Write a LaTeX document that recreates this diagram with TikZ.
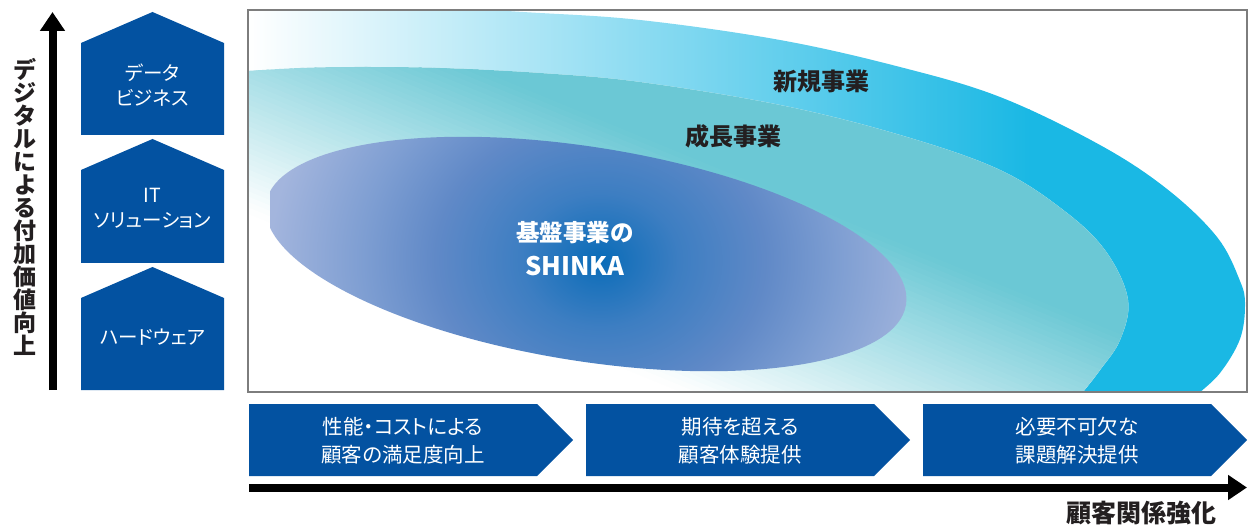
\documentclass[tikz,border=0pt]{standalone}
\usepackage{fontspec}
\setmainfont{Noto Sans CJK JP}[RawFeature=+palt]
\usetikzlibrary{arrows.meta}
\definecolor{navy}{RGB}{3,82,161}
\definecolor{cyanA}{RGB}{26,184,228}
\definecolor{tealA}{RGB}{107,200,213}
\definecolor{boxgray}{RGB}{125,125,125}
\definecolor{ink}{RGB}{35,31,32}
\definecolor{coreA}{RGB}{10,108,184}
\definecolor{coreB}{RGB}{61,126,194}
\definecolor{coreC}{RGB}{96,137,199}
\definecolor{coreD}{RGB}{126,158,210}
\definecolor{coreE}{RGB}{163,181,221}
\pgfdeclareradialshading{coreshade}{\pgfpoint{0bp}{0bp}}{color(0bp)=(coreA);color(6bp)=(coreB);color(12.5bp)=(coreC);color(18bp)=(coreD);color(25bp)=(coreE);color(100bp)=(coreE)}
\def\outerpath{plot[smooth,tension=0.6] coordinates {(230,3) (400,5) (523,12) (640,20) (780,40) (900,67) (1000,97) (1100,145) (1167,189) (1217,237) (1240,281) (1245,305) (1240,339) (1220,373) (1195,397) (1180,415)} -- (230,415) -- cycle}
\def\midpath{plot[smooth,tension=0.6] coordinates {(230,72) (300,68) (360,67) (440,68) (540,73) (640,82) (780,105) (900,135) (1000,170) (1067,213) (1107,253) (1128,300) (1120,340) (1100,370) (1083,392) (1065,415)} -- (230,415) -- cycle}
\begin{document}
\begin{tikzpicture}[x=1pt,y=-1pt,
  navyfill/.style={fill=navy},
  ptext/.style={text=white, align=center, font=\fontsize{19.5}{25}\selectfont, inner sep=0pt},
  ctext/.style={text=white, align=center, font=\fontsize{20.5}{28}\selectfont, inner sep=0pt},
  lbl/.style={text=ink, font=\bfseries\fontsize{24}{28}\selectfont, inner sep=0pt},
  wlbl/.style={text=white, align=center, font=\bfseries\fontsize{23.5}{34}\selectfont, inner sep=0pt},
  axisarrow/.style={line width=8pt, -{Triangle[length=19pt,width=24pt]}}]
\useasboundingbox (0,0) rectangle (1249,526);

% chart
\begin{scope}
\clip (248,10) rectangle (1247,392);
\begin{scope}
\clip \outerpath;
\shade[left color=white, right color=cyanA] (248,0) rectangle (1030,400);
\fill[cyanA] (1029,0) rectangle (1260,400);
\end{scope}
\begin{scope}
\clip \midpath;
\fill[white] (200,0) rectangle (1260,420);
\begin{scope}[rotate=-22.4]
\fill[tealA] (-500,-2000) rectangle (2500,-115);
\foreach \i in {0,...,43} {
  \pgfmathsetmacro\vv{-118+5*\i}
  \pgfmathsetmacro\pp{100*(1-(5*\i+2.5)/220)}
  \fill[tealA!\pp!white] (-500,\vv) rectangle (2500,\vv+5.8);
}
\end{scope}
\end{scope}
\begin{scope}
\clip[shift={(586,254)},rotate=-9] (0,0) ellipse[x radius=324,y radius=107];
\shade[shading=coreshade] (270,-20) rectangle (930,540);
\end{scope}
\end{scope}
\draw[boxgray, line width=1.3pt] (248,10) rectangle (1247,392);

\node[lbl] (new) at (821.5,81) {新規事業};
\node[lbl] (grow) at (733,136) {成長事業};
\node[wlbl] (core) at (575,248.5) {基盤事業の\\{\fontsize{25.5}{34}\selectfont SHINKA}};

% left pentagons
\fill[navyfill] (81,43) -- (152.5,12) -- (224,43) -- (224,135) -- (81,135) -- cycle;
\fill[navyfill] (81,170) -- (152.5,139) -- (224,170) -- (224,263) -- (81,263) -- cycle;
\fill[navyfill] (81,298) -- (152.5,267) -- (224,298) -- (224,390) -- (81,390) -- cycle;
\node[ptext] (data) at (152.5,85) {データ\\ビジネス};
\node[ptext] (it) at (152.5,208.5) {IT\\ソリューション};
\node[ptext] (hw) at (152.5,337) {ハードウェア};

% bottom chevrons
\fill[navyfill] (249,404) -- (537,404) -- (573,440) -- (537,476) -- (249,476) -- cycle;
\fill[navyfill] (586,404) -- (874,404) -- (910,440) -- (874,476) -- (586,476) -- cycle;
\fill[navyfill] (923,404) -- (1211,404) -- (1247,440) -- (1211,476) -- (923,476) -- cycle;
\node[ctext] (c1) at (403,441) {性能・コストによる\\顧客の満足度向上};
\node[ctext] (c2) at (740,441) {期待を超える\\顧客体験提供};
\node[ctext] (c3) at (1077,441) {必要不可欠な\\課題解決提供};

% axes
\coordinate (vb) at (52.5,390);
\coordinate (vt) at (52.5,12);
\draw[axisarrow] (vb) -- (vt);
\coordinate (hl) at (249,487.5);
\coordinate (hr) at (1247,487.5);
\draw[axisarrow] (hl) -- (hr);
\node[text=ink, align=center, inner sep=0pt, font=\bfseries\fontsize{23}{23}\selectfont] (vlabel) at (25,207) {デ\\ジ\\タ\\ル\\に\\よ\\る\\付\\加\\価\\値\\向\\上};
\node[text=ink, inner sep=0pt, font=\bfseries\fontsize{25}{28}\selectfont] (hlabel) at (1141,513.5) {顧客関係強化};
\end{tikzpicture}
\end{document}
